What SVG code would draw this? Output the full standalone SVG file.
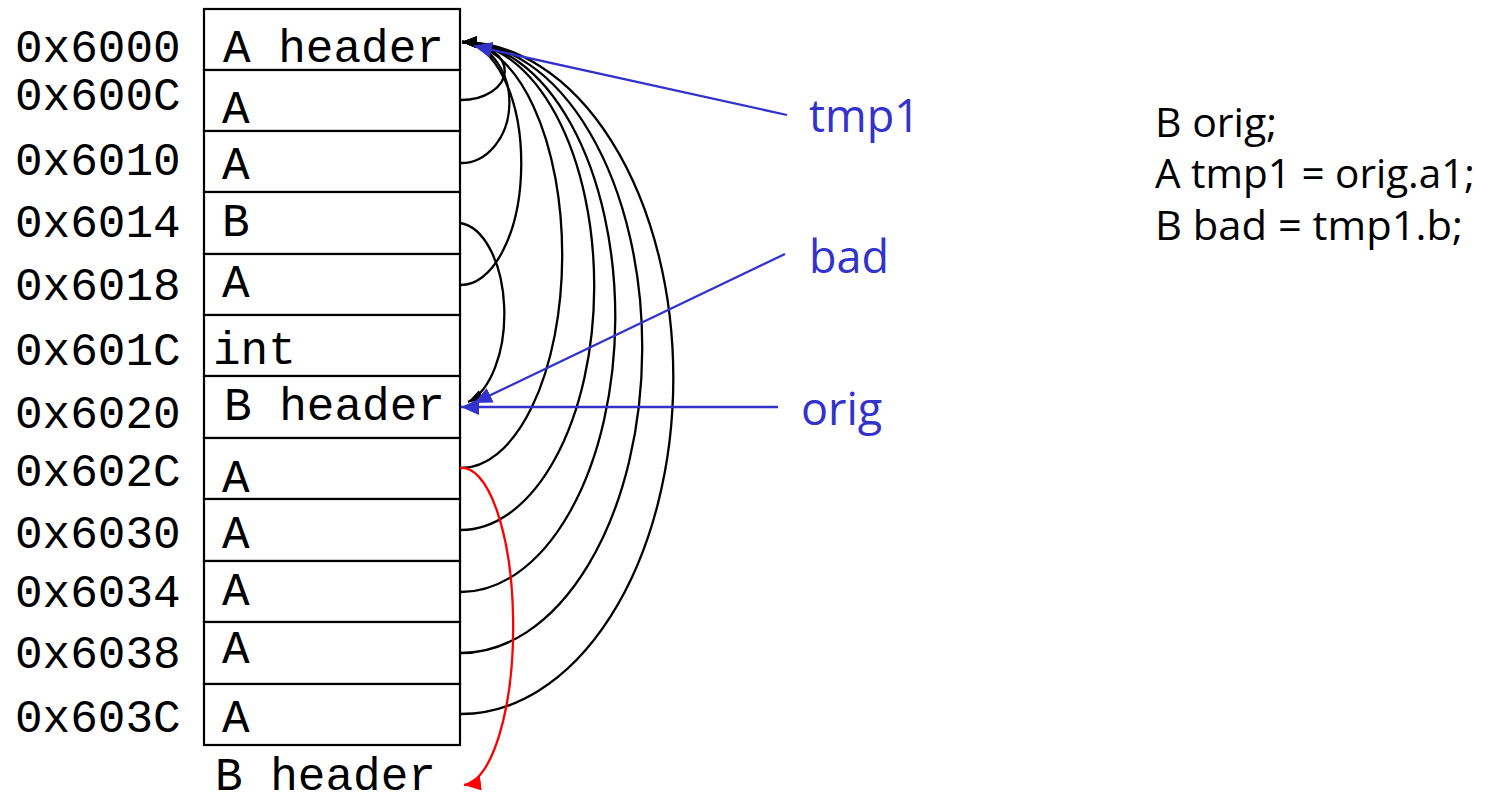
<svg xmlns="http://www.w3.org/2000/svg" width="1490" height="803" viewBox="0 0 1490 803">
<style>
.cell{fill:#fff;stroke:#000;stroke-width:2.2}
.mono{font-family:"Liberation Mono","DejaVu Sans Mono",monospace;font-size:46px;fill:#000}
.lbl{font-family:"Open Sans","Noto Sans",sans-serif;font-size:45px;fill:#3333CC}
.code{font-family:"Open Sans","Noto Sans",sans-serif;font-size:41px;fill:#000}
.arc{fill:none;stroke:#000;stroke-width:2.3;marker-end:url(#hb)}
.blue{fill:none;stroke:#3333CC;stroke-width:2.3;marker-end:url(#hu)}
.red{fill:none;stroke:#FF0000;stroke-width:2.3;marker-end:url(#hr)}
</style>
<defs>
<marker id="hb" markerUnits="userSpaceOnUse" markerWidth="16" markerHeight="14" refX="15" refY="6" orient="auto"><path d="M0,0 L15,6 L0,12 z" fill="#000"/></marker>
<marker id="hu" markerUnits="userSpaceOnUse" markerWidth="19" markerHeight="17" refX="18" refY="8" orient="auto"><path d="M0,0 L18,8 L0,16 z" fill="#3333CC"/></marker>
<marker id="hr" markerUnits="userSpaceOnUse" markerWidth="18" markerHeight="16" refX="17" refY="7.5" orient="auto"><path d="M0,0 L17,7.5 L0,15 z" fill="#FF0000"/></marker>
</defs>
<rect width="1490" height="803" fill="#fff"/>
<g id="addresses" class="mono">
<text x="15" y="62">0x6000</text>
<text x="15" y="110">0x600C</text>
<text x="15" y="175">0x6010</text>
<text x="15" y="237">0x6014</text>
<text x="15" y="300">0x6018</text>
<text x="15" y="365">0x601C</text>
<text x="15" y="428">0x6020</text>
<text x="15" y="486">0x602C</text>
<text x="15" y="548">0x6030</text>
<text x="15" y="607">0x6034</text>
<text x="15" y="668">0x6038</text>
<text x="15" y="732">0x603C</text>
</g>
<g id="cell-6000"><rect class="cell" x="204" y="9" width="256" height="61"/><text class="mono" x="223" y="62">A header</text></g>
<g id="cell-600C"><rect class="cell" x="204" y="70" width="256" height="61"/><text class="mono" x="222" y="123">A</text></g>
<g id="cell-6010"><rect class="cell" x="204" y="131" width="256" height="61"/><text class="mono" x="222" y="179">A</text></g>
<g id="cell-6014"><rect class="cell" x="204" y="192" width="256" height="62"/><text class="mono" x="222" y="236">B</text></g>
<g id="cell-6018"><rect class="cell" x="204" y="254" width="256" height="61"/><text class="mono" x="222" y="297">A</text></g>
<g id="cell-601C"><rect class="cell" x="204" y="315" width="256" height="61"/><text class="mono" x="213" y="364">int</text></g>
<g id="cell-6020"><rect class="cell" x="204" y="376" width="256" height="62"/><text class="mono" x="224" y="420">B header</text></g>
<g id="cell-602C"><rect class="cell" x="204" y="438" width="256" height="61"/><text class="mono" x="222" y="492">A</text></g>
<g id="cell-6030"><rect class="cell" x="204" y="499" width="256" height="62"/><text class="mono" x="222" y="548">A</text></g>
<g id="cell-6034"><rect class="cell" x="204" y="561" width="256" height="61"/><text class="mono" x="222" y="605">A</text></g>
<g id="cell-6038"><rect class="cell" x="204" y="622" width="256" height="62"/><text class="mono" x="222" y="663">A</text></g>
<g id="cell-603C"><rect class="cell" x="204" y="684" width="256" height="61"/><text class="mono" x="222" y="732">A</text></g>
<g id="next-b-header"><text class="mono" x="215" y="790">B header</text></g>
<g id="label-tmp1"><text class="lbl" x="809" y="132">tmp1</text></g>
<g id="label-bad"><text class="lbl" x="809" y="273">bad</text></g>
<g id="label-orig"><text class="lbl" x="801" y="425">orig</text></g>
<g id="code">
<text class="code" x="1155" y="137">B orig;</text>
<text class="code" x="1155" y="188" textLength="320" lengthAdjust="spacingAndGlyphs">A tmp1 = orig.a1;</text>
<text class="code" x="1155" y="240" textLength="308" lengthAdjust="spacingAndGlyphs">B bad = tmp1.b;</text>
</g>
<g id="connectors">
<path class="arc" d="M460,100 A43,28.5 0 0 0 462,42"/>
<path class="arc" d="M460,163 A48,60 0 0 0 462,42"/>
<path class="arc" d="M460,285 A60,121 0 0 0 462,42"/>
<path class="arc" d="M460,468 A101,212.5 0 0 0 462,42"/>
<path class="arc" d="M460,530 A133,243.5 0 0 0 462,42"/>
<path class="arc" d="M460,592 A154,274.5 0 0 0 462,42"/>
<path class="arc" d="M460,653 A181,305 0 0 0 462,42"/>
<path class="arc" d="M460,714 A212,335.5 0 0 0 462,42"/>
<path class="arc" d="M460,223 A48,91 0 0 1 468,402"/>
<path class="red" d="M460,468 A51,158 0 0 1 464,785"/>
<line class="blue" x1="787" y1="115" x2="474" y2="46"/>
<line class="blue" x1="785" y1="254" x2="474" y2="403"/>
<line class="blue" x1="778" y1="407" x2="461" y2="407"/>
</g>
</svg>
